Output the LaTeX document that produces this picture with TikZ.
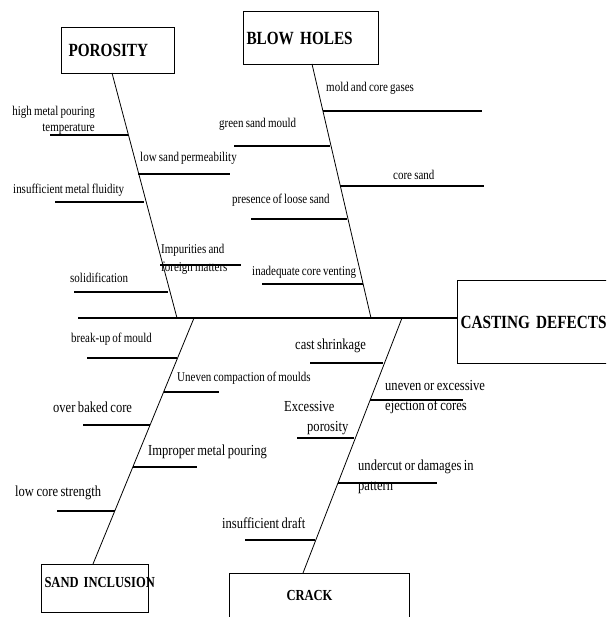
\documentclass[tikz,border=0pt]{standalone}
\usepackage{fontspec}
\setmainfont[FakeStretch=0.82,WordSpace=0.8]{Liberation Serif}
\newcommand\smallf{\fontsize{13.4}{16}\selectfont}
\newcommand\medf{\fontsize{15.3}{20}\selectfont}
\newcommand\titlef{\fontsize{18.6}{22}\selectfont\bfseries}
\newcommand\titles{\fontsize{15.3}{18}\selectfont\bfseries}
\newcommand\ribline[4]{\coordinate (#1a) at (#2,#4); \coordinate (#1b) at (#3,#4); \draw[rib] (#1a) -- (#1b);}
\begin{document}
\begin{tikzpicture}[x=1pt,y=-1pt,
  box/.style={draw, line width=1pt, inner ysep=0pt, anchor=north west, align=left},
  bone/.style={line width=0.8pt},
  rib/.style={line width=1.2pt},
  spinestyle/.style={line width=1.2pt},
  lbl/.style={inner sep=0pt, anchor=west, align=left, font=\smallf},
  lblm/.style={inner sep=0pt, anchor=west, align=left, font=\medf}]
\useasboundingbox (0,0) rectangle (606,617);
\clip (0,0) rectangle (606,617);

% boxes
\node[box, font=\titlef, minimum width=113pt, minimum height=46pt, inner xsep=7pt, text width=99pt] (por) at (61,27) {POROSITY};
\node[box, font=\titlef, minimum width=135pt, minimum height=53pt, inner xsep=3pt, text width=129pt] (blow) at (243,11) {BLOW HOLES};
\node[box, font=\titlef, minimum width=155pt, minimum height=83pt, inner xsep=3pt, text width=149pt] (cd) at (457,280) {\mbox{CASTING DEFECTS}};
\node[box, font=\titles, minimum width=107pt, minimum height=48pt, inner xsep=3pt, text width=101pt, text height=10pt, text depth=12pt] (sand) at (41,564) {\mbox{SAND INCLUSION}};
\node[box, font=\titles, minimum width=180pt, minimum height=50pt, inner xsep=57pt, text width=66pt, text height=14pt, text depth=10pt] (crack) at (229,573) {CRACK};

% spine and bones
\coordinate (tail) at (78,318);
\coordinate (j1) at (177,318);
\coordinate (j2) at (371,318);
\coordinate (j3) at (194,318);
\coordinate (j4) at (402,318);
\coordinate (porb) at (112,73);
\coordinate (blob) at (312,64);
\coordinate (sandt) at (93,564);
\coordinate (crackt) at (303,573);
\draw[spinestyle] (tail) -- (cd.west |- tail);
\draw[bone] (porb) -- (j1);
\draw[bone] (blob) -- (j2);
\draw[bone] (j3) -- (sandt);
\draw[bone] (j4) -- (crackt);

% porosity ribs
\ribline{hmp}{50}{128}{135}
\ribline{lsp}{138}{230}{174}
\ribline{imf}{55}{144}{202}
\ribline{imp}{160}{241}{265}
\ribline{sol}{74}{168}{292}
% blow holes ribs
\ribline{mcg}{323}{482}{111}
\ribline{gsm}{234}{330}{146}
\ribline{csd}{340}{484}{186}
\ribline{pls}{251}{347}{219}
\ribline{icv}{262}{363}{284}
% sand inclusion ribs
\ribline{bum}{87}{177}{358}
\ribline{ucm}{164}{219}{392}
\ribline{obc}{83}{150}{425}
\ribline{ipm}{133}{197}{467}
\ribline{lcs}{57}{115}{511}
% crack ribs
\ribline{csh}{310}{383}{363}
\ribline{uee}{370}{463}{400}
\ribline{exp}{297}{354}{438}
\ribline{ucd}{338}{437}{483}
\ribline{isd}{245}{315}{540}

% porosity labels
\node[lbl, anchor=east, align=right] (thmp) at (95,120) {high metal pouring\\temperature};
\node[lbl] (tlsp) at (140,158) {low sand permeability};
\node[lbl] (timf) at (13,190) {insufficient metal fluidity};
\node[lbl, font=\fontsize{13.4}{18}\selectfont] (timp) at (161,259) {Impurities and\\foreign matters};
\node[lbl] (tsol) at (70,278) {solidification};
% blow holes labels
\node[lbl] (tmcg) at (326,88) {mold and core gases};
\node[lbl] (tgsm) at (219,124) {green sand mould};
\node[lbl] (tcsd) at (393,175) {core sand};
\node[lbl] (tpls) at (232,200) {presence of loose sand};
\node[lbl] (ticv) at (252,272) {inadequate core venting};
% sand inclusion labels
\node[lbl] (tbum) at (71,339) {break-up of mould};
\node[lbl] (tucm) at (177,378) {Uneven compaction of moulds};
\node[lblm] (tobc) at (53,407) {over baked core};
\node[lblm] (tipm) at (148,452) {Improper metal pouring};
\node[lblm] (tlcs) at (15,493) {low core strength};
% crack labels
\node[lblm] (tcsh) at (295,346) {cast shrinkage};
\node[lblm] (tuee) at (385,397) {uneven or excessive\\ejection of cores};
\node[lblm] (texp) at (284,418) {Excessive\\\hspace*{23pt}porosity};
\node[lblm] (tucd) at (358,477) {undercut or damages in\\pattern};
\node[lblm] (tisd) at (222,523) {insufficient draft};
\end{tikzpicture}
\end{document}
